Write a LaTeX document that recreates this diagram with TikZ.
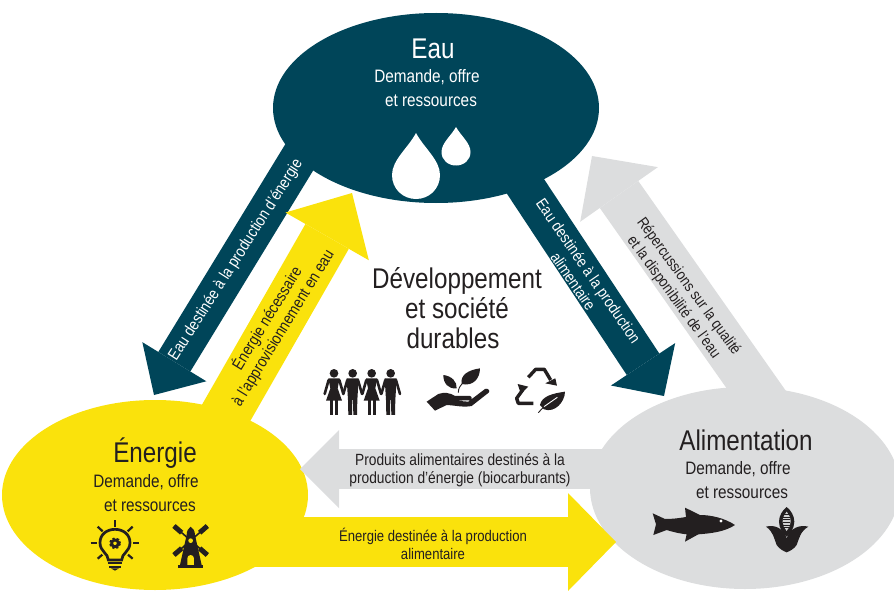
\documentclass[tikz,border=0pt]{standalone}
\usepackage{fontspec}
\setmainfont[FakeStretch=0.85]{Liberation Sans}
\usetikzlibrary{arrows.meta,shapes.geometric}
\definecolor{eauColor}{RGB}{0,69,89}
\definecolor{jauneColor}{RGB}{250,226,12}
\definecolor{grisColor}{RGB}{220,221,222}
\definecolor{texteColor}{RGB}{35,31,32}
\tikzset{
  pole/.style={ellipse,inner sep=0pt,fill=#1},
  flux/.style n args={4}{draw=#1,line width=#2pt,-{Triangle[length=#3pt,width=#4pt,line width=0pt]}},
  titre/.style={text=texteColor,font=\fontsize{28.5}{30}\selectfont,align=center},
  sousTitre/.style={text=texteColor,font=\fontsize{18}{23.5}\selectfont,align=center},
  etiquette/.style={text=texteColor,font=\fontsize{#1}{18.5}\selectfont,align=center},
  icone/.style={fill=texteColor,draw=none},
  trait/.style={draw=texteColor,line width=#1pt}
}
\begin{document}
\begin{tikzpicture}[x=1pt,y=-1pt]
\useasboundingbox (0,0) rectangle (894,591);
\node [pole=grisColor,minimum width=310pt,minimum height=202pt] (alimentation) at (745,488) {};
\node [pole=jauneColor,minimum width=306pt,minimum height=190pt] (energie) at (155,495) {};
\coordinate (eauOutA) at (308,143);
\coordinate (energieInA) at (154,395);
\coordinate (eauOutB) at (510,163);
\coordinate (alimentationInB) at (664,396);
\coordinate (energieOutC) at (214,434);
\coordinate (eauInC) at (352,193);
\coordinate (alimentationOutD) at (772,412);
\coordinate (eauInD) at (592,156);
\coordinate (alimentationOutE) at (640,469);
\coordinate (energieInE) at (300,469);
\coordinate (energieOutF) at (200,542);
\coordinate (alimentationInF) at (616,542);
\draw [flux={eauColor}{37.5}{39}{75}] (eauOutA) -- (energieInA);
\draw [flux={eauColor}{39}{38}{77}] (eauOutB) -- (alimentationInB);
\draw [flux={grisColor}{47}{47}{95}] (alimentationOutD) -- (eauInD);
\draw [flux={grisColor}{40}{39}{78}] (alimentationOutE) -- (energieInE);
\node [pole=eauColor,minimum width=326pt,minimum height=190pt] (eau) at (436,108) {};
\draw [flux={jauneColor}{50}{50}{96}] (energieOutC) -- (eauInC);
\draw [flux={jauneColor}{50}{48}{98}] (energieOutF) -- (alimentationInF);
\node [titre,text=white] (eauTitre) at (433,49) {Eau};
\node [sousTitre,text=white] (eauSous) at (427,88) {Demande, offre\\\hspace*{8pt}et ressources};
\node [titre] (energieTitre) at (155,453) {Énergie};
\node [sousTitre] (energieSous) at (146,493) {Demande, offre\\\hspace*{8pt}et ressources};
\node [titre] (alimentationTitre) at (746,440) {Alimentation};
\node [sousTitre] (alimentationSous) at (738,480) {Demande, offre\\\hspace*{8pt}et ressources};
\node [titre] (developpement) at (457,308) {Développement\\et société\hspace*{34pt}\\durables\hspace*{8pt}};
\node [etiquette=16.2,text=white,rotate=57.5] (labelA) at (236,260) {Eau destinée à la production d’énergie};
\node [etiquette=16.2,rotate=58.5] (labelC) at (275,323) {Énergie nécessaire\\à l’approvisionnement en eau};
\node [etiquette=15.9,text=white,rotate=-55.5] (labelB) at (581,276) {Eau destinée à la production\\alimentaire};
\node [etiquette=15.5,rotate=-54] (labelD) at (681,292) {Répercussions sur la qualité\\et la disponibilité de l’eau};
\node [etiquette=16.2] (labelE) at (460,470) {Produits alimentaires destinés à la\\production d’énergie (biocarburants)};
\node [etiquette=15.4] (labelF) at (433,544) {Énergie destinée à la production\\alimentaire};
\path [fill=white] (416,133) .. controls (408,148) and (392,160) .. (392,175) .. controls (392,189) and (403,199) .. (416,199) .. controls (429,199) and (440,189) .. (440,175) .. controls (440,160) and (424,148) .. (416,133) -- cycle;
\path [fill=white] (456,127) .. controls (451,136) and (441.5,143) .. (441.5,152) .. controls (441.5,160) and (448,165.5) .. (456,165.5) .. controls (464,165.5) and (470.5,160) .. (470.5,152) .. controls (470.5,143) and (461,136) .. (456,127) -- cycle;
\begin{scope}[shift={(320,360)},scale=0.3333]
\foreach \cx in {42,155} {
  \fill [icone] (\cx,40) circle (13);
  \fill [icone] (\cx-17,55) -- (\cx+17,55) -- (\cx+11,85) -- (\cx+24,122) -- (\cx-24,122) -- (\cx-11,85) -- cycle;
  \fill [icone] (\cx-12,120) rectangle (\cx-3,165);
  \fill [icone] (\cx+3,120) rectangle (\cx+12,165);
}
\foreach \cx in {98,212} {
  \fill [icone] (\cx,40) circle (13);
  \fill [icone] (\cx-18,55) -- (\cx+18,55) -- (\cx+14,120) -- (\cx+13,165) -- (\cx+2,165) -- (\cx+1,120) -- (\cx-1,120) -- (\cx-2,165) -- (\cx-13,165) -- (\cx-14,120) -- cycle;
}
\foreach \cx in {42,98,155,212} {
  \draw [trait=2.6,line cap=round] (\cx-16,60) -- (\cx-28,102);
  \draw [trait=2.6,line cap=round] (\cx+16,60) -- (\cx+28,102);
}
\fill [icone] (320,125) -- (355,102) .. controls (372,96) and (390,98) .. (405,108) -- (450,108) .. controls (458,110) and (456,120) .. (448,121) -- (405,122) -- (445,125) -- (495,87) .. controls (503,83) and (512,92) .. (506,98) -- (455,138) .. controls (430,143) and (405,136) .. (380,135) -- (345,152) -- cycle;
\draw [trait=0.9] (415,98) .. controls (415,85) and (420,78) .. (428,70);
\fill [icone] (425,72) .. controls (420,45) and (445,30) .. (480,25) .. controls (480,55) and (460,80) .. (425,72) -- cycle;
\fill [icone] (410,85) .. controls (412,65) and (395,48) .. (370,45) .. controls (370,70) and (385,88) .. (410,85) -- cycle;
\draw [trait=3.4,line join=round] (625,52) -- (647,28) -- (673,28) -- (692,60);
\fill [icone] (676,70) -- (706,55) -- (711,77) -- cycle;
\draw [trait=3.4,line join=round] (640,130) -- (595,130) -- (590,115) -- (608,90);
\fill [icone] (593,72) -- (625,80) -- (603,102) -- cycle;
\fill [icone] (660,135) .. controls (665,108) and (700,100) .. (735,95) .. controls (735,125) and (705,160) .. (672,148) -- cycle;
\draw [draw=white,line width=0.9pt] (672,140) -- (712,112);
\draw [trait=0.9] (655,158) -- (672,140);
\end{scope}
\begin{scope}[shift={(70,510)},scale=0.3333]
\draw [trait=2.7] (115,150) .. controls (115,130) and (90,125) .. (90,98) .. controls (90,72) and (112,58) .. (135,58) .. controls (158,58) and (180,72) .. (180,98) .. controls (180,125) and (155,130) .. (155,150) -- cycle;
\draw [trait=2.7,dash pattern=on 2.2pt off 1.6pt] (135,100) circle (14);
\draw [trait=2.7] (135,100) circle (10);
\draw [trait=2.2] (113,160) -- (157,160);
\draw [trait=2.2] (118,170) -- (152,170);
\fill [icone] (123,175) -- (147,175) -- (135,182) -- cycle;
\draw [trait=2.2] (135,30) -- (135,50);
\draw [trait=2.2] (83,50) -- (98,64);
\draw [trait=2.2] (188,50) -- (173,64);
\draw [trait=2.2] (62,98) -- (80,98);
\draw [trait=2.2] (190,98) -- (208,98);
\draw [trait=2.2] (83,146) -- (97,134);
\draw [trait=2.2] (188,146) -- (174,134);
\fill [icone] (350,75) .. controls (350,62) and (355,55) .. (362,50) .. controls (369,55) and (375,62) .. (375,75) -- (395,165) -- (330,165) -- cycle;
\fill [icone] (325,165) rectangle (400,175);
\draw [trait=1.6] (312,48) -- (412,135);
\draw [trait=1.6] (412,48) -- (312,135);
\draw [trait=5] (312,48) -- (335,68);
\draw [trait=5] (412,48) -- (389,68);
\draw [trait=5] (312,135) -- (335,115);
\draw [trait=5] (412,135) -- (389,115);
\fill [jauneColor] (362,92) circle (7);
\fill [jauneColor] (352,165) -- (352,145) .. controls (352,132) and (372,132) .. (372,145) -- (372,165) -- cycle;
\end{scope}
\begin{scope}[shift={(640,495)},scale=0.3333]
\fill [icone] (38,55) -- (75,72) .. controls (95,72) and (115,70) .. (138,66) -- (135,38) -- (180,60) .. controls (215,60) and (255,70) .. (285,90) .. controls (255,110) and (215,115) .. (175,118) -- (135,140) -- (140,118) .. controls (115,115) and (95,110) .. (80,105) -- (40,120) -- (48,88) -- cycle;
\fill [white] (243,78) circle (5);
\fill [icone] (378,95) .. controls (405,88) and (430,100) .. (440,130) .. controls (450,100) and (478,88) .. (505,95) .. controls (480,110) and (478,130) .. (470,150) .. controls (462,162) and (450,168) .. (440,172) .. controls (430,168) and (418,162) .. (410,150) .. controls (402,130) and (400,110) .. (378,95) -- cycle;
\fill [icone] (440,36) .. controls (428,45) and (417,62) .. (417,80) .. controls (417,100) and (430,118) .. (440,125) .. controls (450,118) and (463,100) .. (463,80) .. controls (463,62) and (452,45) .. (440,36) -- cycle;
\fill [gray!35] (440,50) .. controls (433,58) and (428,68) .. (428,80) .. controls (428,90) and (433,100) .. (440,108) .. controls (447,100) and (452,90) .. (452,80) .. controls (452,68) and (447,58) .. (440,50) -- cycle;
\foreach \v in {58,66,74,82,90,98} {
  \draw [draw=texteColor,line width=0.35pt] (430,\v) -- (450,\v);
}
\end{scope}
\end{tikzpicture}
\end{document}
